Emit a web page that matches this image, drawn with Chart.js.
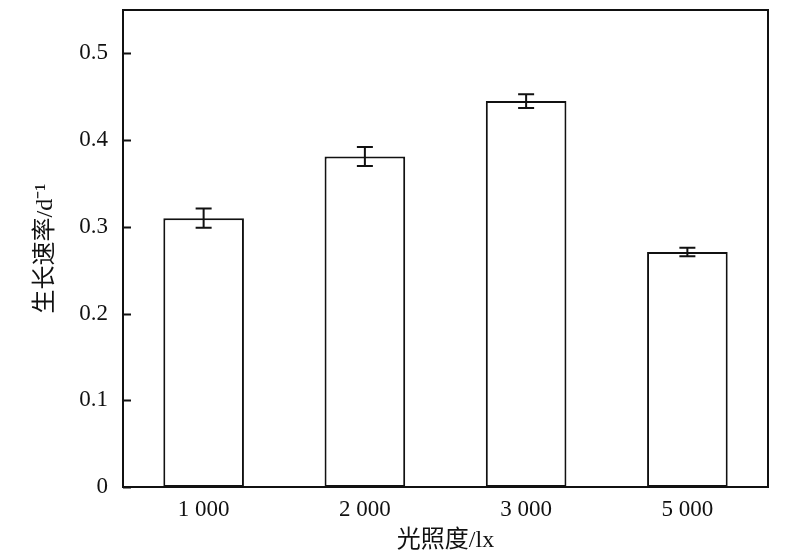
<!DOCTYPE html>
<html>
<head>
    <title>生长速率</title>
    <script src="https://cdn.jsdelivr.net/npm/chart.js"></script>
    <style>
        body { margin: 0; background: #fff; }
        .wrap { width: 800px; height: 560px; }
    </style>
</head>
<body>
<div class="wrap"><canvas id="chart"></canvas></div>
<script>
    // light intensity categories and growth rate
    const labels = ['1 000', '2 000', '3 000', '5 000'];
    const rates = [0.310, 0.381, 0.445, 0.271];
    const errors = [0.011, 0.011, 0.008, 0.005];
    const yTicks = [0, 0.1, 0.2, 0.3, 0.4, 0.5];

    const serif = '"Liberation Serif", "Times New Roman", serif';
    const cjk = '"Liberation Serif", "Noto Sans CJK SC", serif';

    // box round the plot, inward ticks on y, and error bars
    const framePlugin = {
        id: 'frame',
        afterDatasetsDraw(chart) {
            const ctx = chart.ctx;
            const area = chart.chartArea;
            const y = chart.scales.y;
            const meta = chart.getDatasetMeta(0);
            ctx.save();
            ctx.strokeStyle = '#111';
            ctx.lineWidth = 2;
            ctx.strokeRect(area.left, area.top, area.right - area.left, area.bottom - area.top);

            // ticks pointing into the plot
            ctx.beginPath();
            yTicks.forEach(v => {
                const py = Math.round(y.getPixelForValue(v)) + 0.5;
                ctx.moveTo(area.left, py);
                ctx.lineTo(area.left + 8, py);
            });
            ctx.stroke();

            // error bars
            meta.data.forEach((bar, i) => {
                const x = bar.x;
                const hi = y.getPixelForValue(rates[i] + errors[i]);
                const lo = y.getPixelForValue(rates[i] - errors[i]);
                ctx.beginPath();
                ctx.moveTo(x, hi);
                ctx.lineTo(x, lo);
                ctx.moveTo(x - 8, hi);
                ctx.lineTo(x + 8, hi);
                ctx.moveTo(x - 8, lo);
                ctx.lineTo(x + 8, lo);
                ctx.stroke();
            });
            ctx.restore();
        }
    };

    new Chart(document.getElementById('chart'), {
        type: 'bar',
        data: {
            labels: labels,
            datasets: [{
                data: rates,
                backgroundColor: '#fff',
                borderColor: '#111',
                borderWidth: 2,
                borderSkipped: false,
                categoryPercentage: 1.0,
                barPercentage: 0.5
            }]
        },
        options: {
            responsive: true,
            maintainAspectRatio: false,
            animation: false,
            devicePixelRatio: 1,
            layout: { padding: { top: 10, right: 32, left: 0, bottom: 0 } },
            plugins: {
                legend: { display: false },
                tooltip: { enabled: false }
            },
            scales: {
                x: {
                    afterFit: axis => {
                        axis.height = 73;
                        axis.paddingLeft = 0;
                        axis.paddingRight = 0;
                    },
                    grid: { display: false, drawTicks: false },
                    border: { display: false },
                    ticks: {
                        color: '#111',
                        padding: 9,
                        font: { family: serif, size: 23 }
                    },
                    title: {
                        display: true,
                        text: '光照度/lx',
                        color: '#111',
                        padding: { top: 2, bottom: 5 },
                        font: { family: cjk, size: 24 }
                    }
                },
                y: {
                    min: 0,
                    max: 0.55,
                    afterBuildTicks: axis => {
                        axis.ticks = yTicks.map(v => ({ value: v }));
                    },
                    afterFit: axis => {
                        axis.width = 123;
                        axis.paddingTop = 0;
                        axis.paddingBottom = 0;
                    },
                    grid: { display: false, drawTicks: false },
                    border: { display: false },
                    ticks: {
                        color: '#111',
                        padding: 15,
                        font: { family: serif, size: 23 },
                        callback: v => v === 0 ? '0' : v.toFixed(1)
                    },
                    title: {
                        display: true,
                        text: '生长速率/d⁻¹',
                        color: '#111',
                        padding: { top: 31, bottom: 8 },
                        font: { family: cjk, size: 24 }
                    }
                }
            }
        },
        plugins: [framePlugin]
    });
</script>
</body>
</html>
